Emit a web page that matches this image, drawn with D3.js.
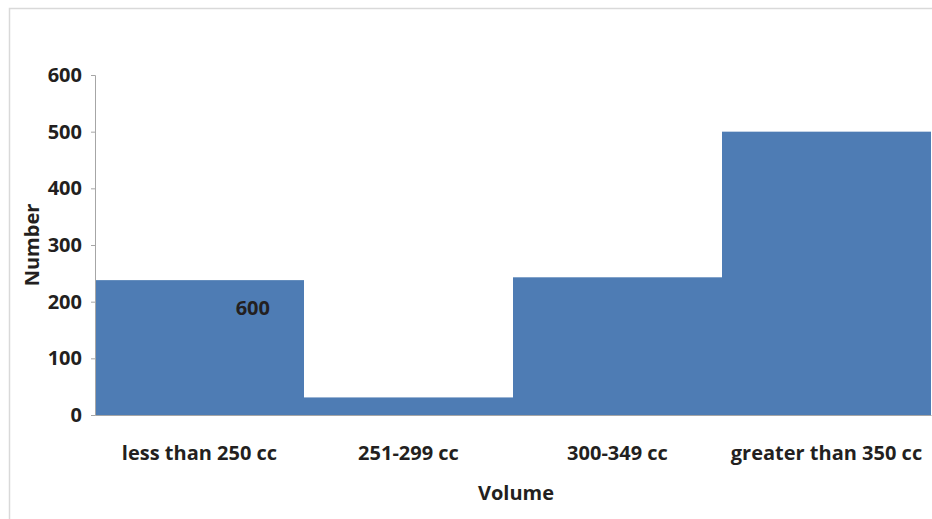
<!DOCTYPE html>
<html>
<head>
<meta charset="utf-8">
<script src="https://cdn.jsdelivr.net/npm/d3@7"></script>
<style>
  body { margin: 0; background: #fff; }
  text { font-family: "Open Sans", "DejaVu Sans", sans-serif; font-weight: bold; fill: #231f20; }
</style>
</head>
<body>
<script>
// chart data
var categories = ["less than 250 cc", "251-299 cc", "300-349 cc", "greater than 350 cc"];
var counts = [238, 31, 243, 500];
var yTicks = [0, 100, 200, 300, 400, 500, 600];

var width = 932, height = 519;
var margin = {top: 75, right: 1, bottom: 104, left: 95};
var fontSize = "20px";

var svg = d3.select("body").append("svg")
    .attr("width", width)
    .attr("height", height);

// outer frame (only top and left visible)
svg.append("path")
    .attr("d", "M9.5," + height + "V8.5H" + width)
    .attr("fill", "none")
    .attr("stroke", "#d9d9d9")
    .attr("stroke-width", 1.5);

var x = d3.scaleBand()
    .domain(categories)
    .range([margin.left, width - margin.right])
    .padding(0);

var y = d3.scaleLinear()
    .domain([0, 600])
    .range([height - margin.bottom, margin.top]);

// bars
svg.append("g").selectAll("rect")
    .data(counts)
  .enter().append("rect")
    .attr("x", function(d, i) { return x(categories[i]); })
    .attr("y", function(d) { return y(d); })
    .attr("width", x.bandwidth())
    .attr("height", function(d) { return y(0) - y(d); })
    .style("fill", "#4e7cb4");

// y axis
var yAxis = svg.append("g")
    .attr("transform", "translate(" + margin.left + ",0)")
    .call(d3.axisLeft(y).tickValues(yTicks).tickSize(4).tickPadding(9));
yAxis.select(".domain").attr("stroke", "#a6a6a6");
yAxis.selectAll(".tick line").attr("stroke", "#a6a6a6");
yAxis.selectAll("text").style("font-size", fontSize).attr("fill", "#231f20");

// x axis
var xAxis = svg.append("g")
    .attr("transform", "translate(0," + y(0) + ")")
    .call(d3.axisBottom(x).tickSize(0).tickPadding(31));
xAxis.select(".domain").attr("stroke", "#a6a6a6");
xAxis.selectAll("text").style("font-size", fontSize).attr("fill", "#231f20");

// axis titles
svg.append("text")
    .attr("transform", "translate(39," + ((y(0) + y(600)) / 2) + ") rotate(-90)")
    .attr("text-anchor", "middle")
    .style("font-size", fontSize)
    .text("Number");

svg.append("text")
    .attr("x", 516)
    .attr("y", 500)
    .attr("text-anchor", "middle")
    .style("font-size", fontSize)
    .text("Volume");

// stray label inside the first bar
svg.append("text")
    .attr("x", x(categories[0]) + x.bandwidth() * 0.755)
    .attr("y", y(200) + 13)
    .attr("text-anchor", "middle")
    .style("font-size", fontSize)
    .text("600");
</script>
</body>
</html>
